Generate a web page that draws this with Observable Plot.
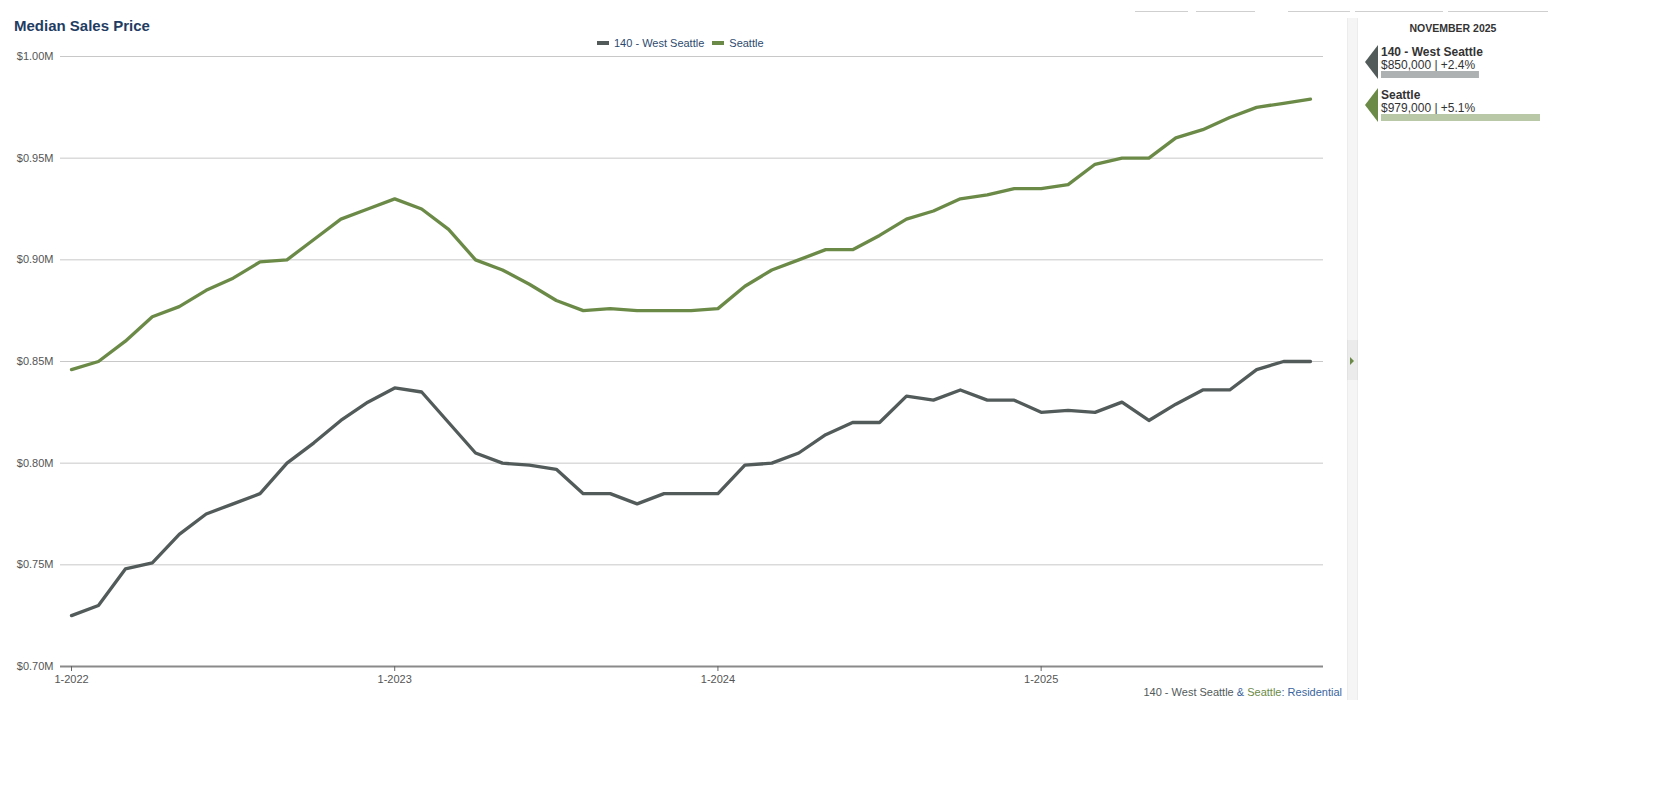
<!DOCTYPE html>
<html>
<head>
<meta charset="utf-8">
<script src="https://cdn.jsdelivr.net/npm/d3@7"></script>
<script src="https://cdn.jsdelivr.net/npm/@observablehq/plot@0.6"></script>
<style>
  html, body { margin: 0; padding: 0; background: #fff; }
  body { width: 1656px; height: 804px; position: relative; overflow: hidden; font-family: "Liberation Sans", Arial, sans-serif; }
  .abs { position: absolute; }
  #title { left: 14px; top: 17px; font-size: 15px; font-weight: bold; color: #1f3d63; }
  #legend { left: 597px; top: 37px; font-size: 11px; color: #2d4a6e; display: flex; align-items: center; white-space: nowrap; }
  #legend .sw { width: 12px; height: 4px; margin-right: 5px; }
  #legend .item { display: flex; align-items: center; margin-right: 8px; }
  #chart { left: 0; top: 0; }
  #caption { right: 314px; top: 686px; font-size: 11px; white-space: nowrap; }
  .topline { position: absolute; top: 11px; height: 1px; background: #cfcfcf; }
  #strip { left: 1347px; top: 18px; width: 9px; height: 682px; background: #f5f5f5; border-left: 1px solid #ececec; border-right: 1px solid #ececec; }
  #handle { left: 1347px; top: 340px; width: 9px; height: 40px; background: #ebebeb; border-left: 1px solid #e2e2e2; border-right: 1px solid #e2e2e2; }
  #handleTri { left: 1350px; top: 357px; width: 0; height: 0; border-top: 4px solid transparent; border-bottom: 4px solid transparent; border-left: 4px solid #6b8a47; }
  #panelTitle { left: 1360px; width: 186px; top: 22px; text-align: center; font-size: 10.5px; font-weight: bold; color: #333; }
  .entry { position: absolute; left: 1365px; width: 180px; height: 36px; }
  .entry .tri { position: absolute; left: 0; top: 0; width: 0; height: 0; border-top: 17px solid transparent; border-bottom: 17px solid transparent; border-right: 13px solid #525a5a; }
  .entry .name { position: absolute; left: 16px; top: 0px; font-size: 12px; font-weight: bold; color: #333; white-space: nowrap; }
  .entry .val { position: absolute; left: 16px; top: 13px; font-size: 12px; color: #333; white-space: nowrap; }
  .entry .bar { position: absolute; left: 16px; top: 26px; width: 160px; height: 7px; line-height: 0; }
  .entry .bar svg { display: block; }
</style>
</head>
<body>
<div id="title" class="abs">Median Sales Price</div>
<div id="legend" class="abs"></div>
<div id="chart" class="abs"></div>
<div id="caption" class="abs"></div>
<div id="strip" class="abs"></div>
<div id="handle" class="abs"></div>
<div id="handleTri" class="abs"></div>
<div id="panelTitle" class="abs">NOVEMBER 2025</div>
<div id="panel"></div>
<script>
// ---- data ----
const months = [
  "2022-01","2022-02","2022-03","2022-04","2022-05","2022-06","2022-07","2022-08","2022-09","2022-10","2022-11","2022-12",
  "2023-01","2023-02","2023-03","2023-04","2023-05","2023-06","2023-07","2023-08","2023-09","2023-10","2023-11","2023-12",
  "2024-01","2024-02","2024-03","2024-04","2024-05","2024-06","2024-07","2024-08","2024-09","2024-10","2024-11","2024-12",
  "2025-01","2025-02","2025-03","2025-04","2025-05","2025-06","2025-07","2025-08","2025-09","2025-10","2025-11"
];
const westSeattle = [
  725000,730000,748000,751000,765000,775000,780000,785000,800000,810000,821000,830000,
  837000,835000,820000,805000,800000,799000,797000,785000,785000,780000,785000,785000,
  785000,799000,800000,805000,814000,820000,820000,833000,831000,836000,831000,831000,
  825000,826000,825000,830000,821000,829000,836000,836000,846000,850000,850000
];
const seattle = [
  846000,850000,860000,872000,877000,885000,891000,899000,900000,910000,920000,925000,
  930000,925000,915000,900000,895000,888000,880000,875000,876000,875000,875000,875000,
  876000,887000,895000,900000,905000,905000,912000,920000,924000,930000,932000,935000,
  935000,937000,947000,950000,950000,960000,964000,970000,975000,977000,979000
];
const seriesNames = ["140 - West Seattle", "Seattle"];
const seriesColors = ["#525a5a", "#6b8a47"];
const barColors = ["#aeb1b1", "#b9c8a6"];
const yTicks = [700000, 750000, 800000, 850000, 900000, 950000, 1000000];
const xTickIndex = [0, 12, 24, 36];
const xTickLabels = ["1-2022", "1-2023", "1-2024", "1-2025"];
const latestValues = [850000, 979000];
const latestChange = [2.4, 5.1];
const panelMonth = "NOVEMBER 2025";

// ---- table ----
const rows = [];
months.forEach((m, i) => {
  rows.push({i, month: m, series: seriesNames[0], value: westSeattle[i]});
  rows.push({i, month: m, series: seriesNames[1], value: seattle[i]});
});

const chart = Plot.plot({
  width: 1345,
  height: 700,
  marginLeft: 60,
  marginRight: 22,
  marginTop: 56,
  marginBottom: 34,
  style: {fontFamily: "'Liberation Sans', Arial, sans-serif", fontSize: "11px", color: "#555", background: "transparent"},
  x: {domain: [0, months.length - 1], range: [71, 1310], label: null},
  y: {domain: [700000, 1000000], label: null},
  color: {domain: seriesNames, range: seriesColors},
  marks: [
    Plot.gridY(yTicks.slice(1), {stroke: "#c8c8c8", strokeOpacity: 1, strokeWidth: 1}),
    Plot.axisY(yTicks, {tickSize: 0, tickPadding: 7, fill: "#555", label: null, tickFormat: d => `$${(d / 1e6).toFixed(2)}M`}),
    Plot.ruleY([700000], {stroke: "#8a8a8a", strokeWidth: 2}),
    Plot.axisX(xTickIndex, {tickSize: 5, tickPadding: 4, stroke: "#666", fill: "#555", label: null, tickFormat: d => xTickLabels[xTickIndex.indexOf(d)]}),
    Plot.line(rows, {x: "i", y: "value", stroke: "series", z: "series", strokeWidth: 3.3, strokeLinejoin: "round", strokeLinecap: "round"})
  ]
});
document.getElementById("chart").appendChild(chart);

// ---- legend ----
const legend = document.getElementById("legend");
seriesNames.forEach((name, k) => {
  const item = document.createElement("div");
  item.className = "item";
  item.innerHTML = `<div class="sw" style="background:${seriesColors[k]}"></div><span>${name}</span>`;
  legend.appendChild(item);
});

// ---- caption ----
document.getElementById("caption").innerHTML =
  `<span style="color:${seriesColors[0]}">${seriesNames[0]}</span><span style="color:#3a5f9a"> &amp; </span>` +
  `<span style="color:${seriesColors[1]}">${seriesNames[1]}</span><span style="color:#3a66a0">: Residential</span>`;

// ---- top tab lines ----
[[1135, 1188], [1196, 1255], [1288, 1350], [1355, 1443], [1448, 1548]].forEach(([a, b]) => {
  const d = document.createElement("div");
  d.className = "topline";
  d.style.left = a + "px";
  d.style.width = (b - a) + "px";
  document.body.appendChild(d);
});

// ---- side panel ----
document.getElementById("panelTitle").textContent = panelMonth;
const panel = document.getElementById("panel");
const entryTops = [45, 88];
seriesNames.forEach((name, k) => {
  const e = document.createElement("div");
  e.className = "entry";
  e.style.top = entryTops[k] + "px";
  e.innerHTML = `<div class="tri" style="border-right-color:${seriesColors[k]}"></div>` +
    `<div class="name">${name}</div>` +
    `<div class="val">${d3.format("$,")(latestValues[k])} | +${latestChange[k].toFixed(1)}%</div>` +
    `<div class="bar"></div>`;
  const bar = Plot.plot({
    width: 160, height: 7, margin: 0,
    x: {domain: [643000, 979000], range: [0, 159], axis: null},
    y: {axis: null, padding: 0},
    style: {background: "transparent"},
    marks: [Plot.barX([{name, value: latestValues[k]}], {x1: () => 643000, x2: "value", y: "name", fill: barColors[k]})]
  });
  e.querySelector(".bar").appendChild(bar);
  panel.appendChild(e);
});
</script>
</body>
</html>
